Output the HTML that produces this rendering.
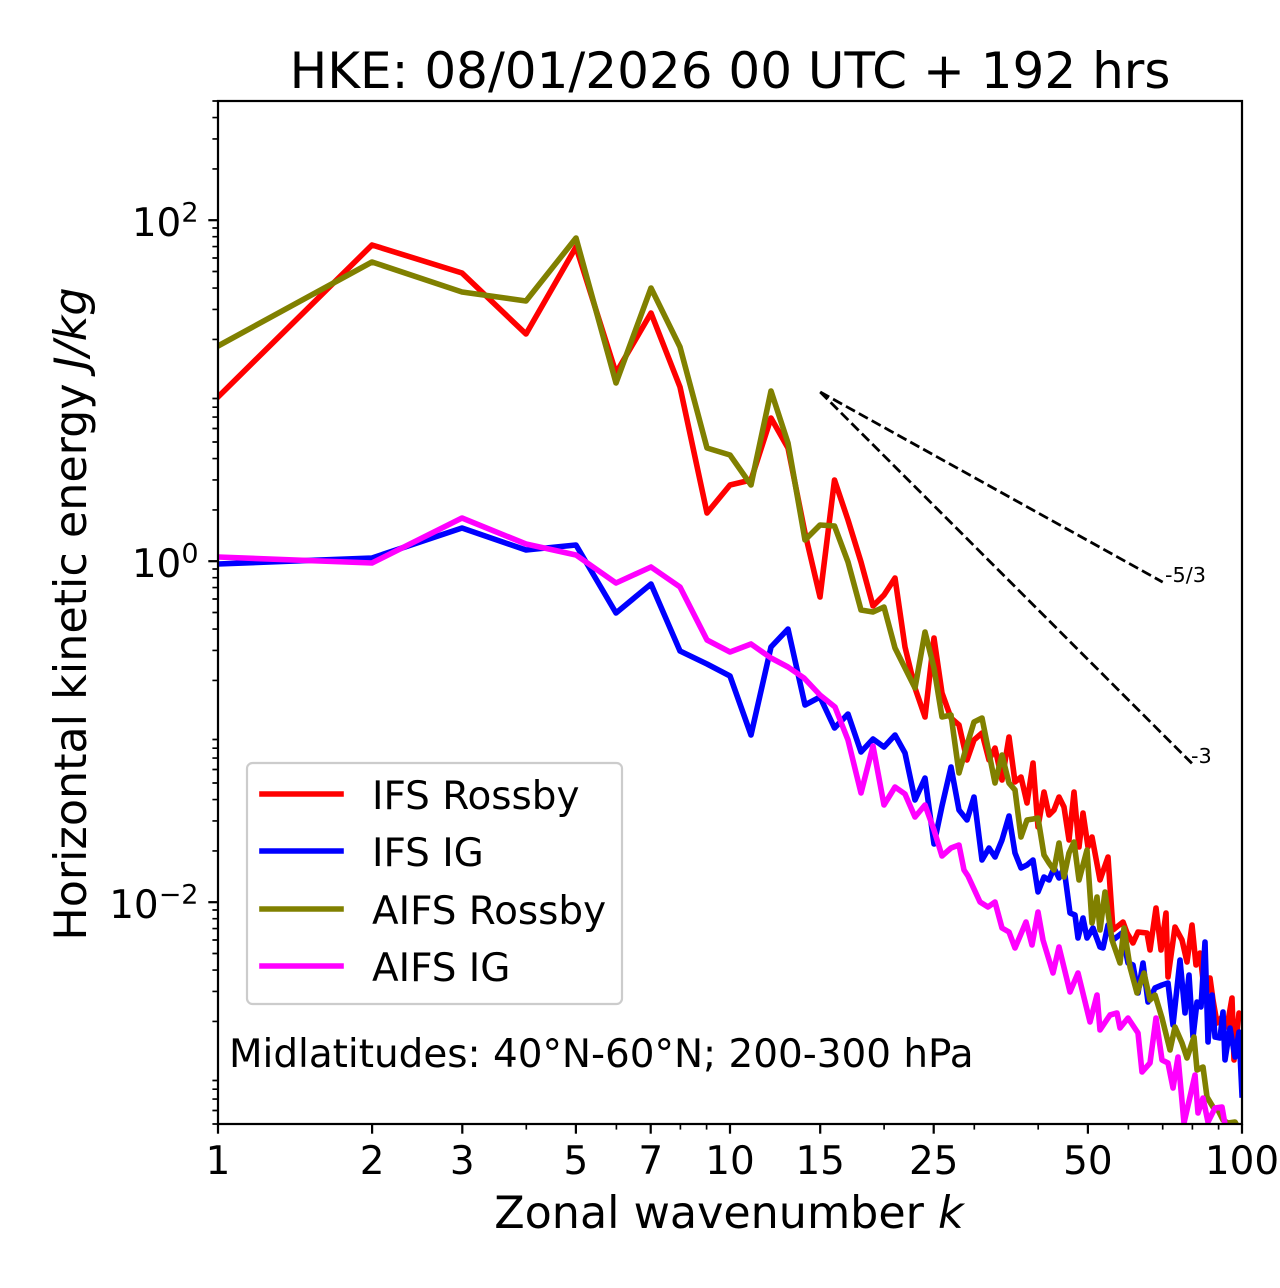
<!DOCTYPE html>
<html><head><meta charset="utf-8"><style>
html,body{margin:0;padding:0;background:#fff;}
svg{display:block;}
text{font-family:"DejaVu Sans","Liberation Sans",sans-serif;fill:#000;}
</style></head><body>
<svg width="1280" height="1288" viewBox="0 0 1280 1288" xmlns="http://www.w3.org/2000/svg">
<rect width="1280" height="1288" fill="#fff"/>
<defs><clipPath id="c"><rect x="218" y="101" width="1024" height="1023"/></clipPath></defs>

<g clip-path="url(#c)" fill="none" stroke-width="5.6" stroke-linejoin="round" stroke-linecap="square">
<polyline stroke="#ff0000" points="218,397 372,245 462,273 526,334 576,247 616,373 651,313 680,387 707,513 730,485 751,480 771,418 788,448 805,533 820,597 834.5,480 848,520 861,562 873,606 884,595 895,578 905,647 915,688 925,717 934,638 942,693 951,718 959,725 967,760 974,740 982,733 989,760 995,748 1002,780 1009,737 1015,782 1021,777 1027,803 1033,763 1038,827 1044,792 1049,815 1054,810 1059,797 1064,807 1069,840 1074,792 1079,847 1083,813 1088,847 1092,837 1100,880 1108,857 1113,930 1123,922 1127,933 1133,943 1138,932 1147,933 1150,950 1156,908 1161,950 1166,913 1168,977 1175,927 1182,940 1187,962 1192,925 1196,965 1200,953 1203,980 1210,978 1213,1000 1217,1023 1222,1017 1227,1027 1232,998 1234,1060 1239,1013 1242,1017"/>
<polyline stroke="#0000ff" points="218,564 372,558 462,528 526,550 576,545 616,613 651,584 680,651 707,664 730,676 751,735 771,647 788,629 805,705 820,697 834.5,728 848,714 861,752 873,739 884,747 895,735 905,753 915,800 925,778 934,844 942,806 951,767 959,810 967,820 974,797 982,860 989,848 995,857 1002,840 1009,816 1015,853 1021,868 1027,865 1033,860 1038,892 1044,877 1049,880 1054,868 1059,878 1064,868 1070,913 1075,915 1078,938 1083,918 1087,938 1093,928 1100,947 1103,948 1108,925 1113,940 1122,933 1128,963 1133,965 1138,993 1143,963 1148,1002 1155,988 1162,985 1168,983 1173,1025 1180,960 1185,1013 1189,975 1193,1037 1197,1002 1201,1007 1205,942 1208,1042 1212,995 1215,1037 1220,1038 1223,1012 1225,1060 1230,1028 1235,1057 1239,1032 1242,1095"/>
<polyline stroke="#808000" points="218,346 372,262 462,292 526,301 576,238 616,383 651,288 680,347 707,448 730,455 751,485 771,391 788,443 805,540 820,525 834.5,526 848,562 861,610 873,612 884,607 895,648 905,668 915,688 925,632 934,668 942,717 951,715 959,773 967,745 974,722 982,718 989,753 995,783 1002,755 1009,783 1015,790 1021,837 1027,820 1033,819 1038,818 1044,855 1049,863 1054,870 1059,843 1064,877 1069,853 1074,842 1079,880 1087,850 1092,923 1097,897 1100,930 1105,892 1112,940 1120,963 1124,928 1130,967 1137,993 1144,973 1150,1000 1155,995 1162,1018 1170,1050 1175,1027 1182,1043 1187,1058 1194,1037 1197,1070 1203,1067 1207,1097 1213,1107 1218,1110 1223,1120 1228,1123 1235,1122 1242,1135"/>
<polyline stroke="#ff00ff" points="218,557 372,563 462,518 526,544 576,555 616,583 651,567 680,587 707,640 730,652 751,644 771,658 788,667 804,678 820,695 835,707 848,740 861,793 873,746 884,805 895,787 905,794 915,817 925,805 934,830 942,856 951,848 959,845 964,870 968,876 980,902 988,907 995,902 1002,928 1009,932 1015,948 1026,922 1032,945 1038,912 1043,940 1053,973 1059,947 1070,992 1078,973 1090,1022 1097,995 1100,1030 1110,1015 1117,1013 1120,1028 1128,1018 1138,1033 1142,1072 1150,1063 1156,1018 1162,1060 1168,1063 1173,1088 1178,1057 1184,1123 1195,1075 1198,1113 1203,1098 1208,1122 1215,1108 1222,1107 1226,1130"/>
<g stroke="#000" stroke-width="2.78" stroke-dasharray="10.28 4.44" stroke-linecap="butt">
<line x1="820.2" y1="392" x2="1162.7" y2="582.1"/>
<line x1="820.2" y1="392" x2="1192.4" y2="763.9"/>
</g>
</g>

<text x="1165" y="582" font-size="20.8">-5/3</text>
<text x="1191" y="763" font-size="20.8">-3</text>

<!-- spines -->
<rect x="218" y="101" width="1024" height="1023" fill="none" stroke="#000" stroke-width="2.22"/>

<!-- x ticks major -->
<g stroke="#000" stroke-width="2.22">
<line x1="218" y1="1124" x2="218" y2="1133.7"/>
<line x1="372.1" y1="1124" x2="372.1" y2="1133.7"/>
<line x1="462.3" y1="1124" x2="462.3" y2="1133.7"/>
<line x1="575.9" y1="1124" x2="575.9" y2="1133.7"/>
<line x1="650.7" y1="1124" x2="650.7" y2="1133.7"/>
<line x1="730" y1="1124" x2="730" y2="1133.7"/>
<line x1="820.2" y1="1124" x2="820.2" y2="1133.7"/>
<line x1="933.7" y1="1124" x2="933.7" y2="1133.7"/>
<line x1="1087.9" y1="1124" x2="1087.9" y2="1133.7"/>
<line x1="1242" y1="1124" x2="1242" y2="1133.7"/>
<line x1="208.3" y1="220.2" x2="218" y2="220.2"/>
<line x1="208.3" y1="561.2" x2="218" y2="561.2"/>
<line x1="208.3" y1="902.2" x2="218" y2="902.2"/>
</g>
<g stroke="#000" stroke-width="1.67">
<line x1="526.3" y1="1124" x2="526.3" y2="1129.6"/>
<line x1="616.4" y1="1124" x2="616.4" y2="1129.6"/>
<line x1="680.4" y1="1124" x2="680.4" y2="1129.6"/>
<line x1="706.6" y1="1124" x2="706.6" y2="1129.6"/>
<line x1="884.1" y1="1124" x2="884.1" y2="1129.6"/>
<line x1="974.3" y1="1124" x2="974.3" y2="1129.6"/>
<line x1="1038.2" y1="1124" x2="1038.2" y2="1129.6"/>
<line x1="1128.4" y1="1124" x2="1128.4" y2="1129.6"/>
<line x1="1162.7" y1="1124" x2="1162.7" y2="1129.6"/>
<line x1="1192.4" y1="1124" x2="1192.4" y2="1129.6"/>
<line x1="1218.6" y1="1124" x2="1218.6" y2="1129.6"/>
</g>
<!-- y minor ticks -->
<path stroke="#000" stroke-width="1.67" fill="none" d="
M212.4 168.9H218M212.4 138.9H218M212.4 117.6H218M212.4 101H218
M212.4 339.4H218M212.4 309.4H218M212.4 288.1H218M212.4 271.5H218M212.4 258H218M212.4 246.6H218M212.4 236.7H218M212.4 228H218
M212.4 509.9H218M212.4 479.9H218M212.4 458.6H218M212.4 442H218M212.4 428.5H218M212.4 417.1H218M212.4 407.2H218M212.4 398.5H218
M212.4 680.4H218M212.4 650.4H218M212.4 629.1H218M212.4 612.5H218M212.4 599H218M212.4 587.6H218M212.4 577.7H218M212.4 569H218
M212.4 850.9H218M212.4 820.9H218M212.4 799.6H218M212.4 783H218M212.4 769.5H218M212.4 758.1H218M212.4 748.2H218M212.4 739.5H218
M212.4 1021.4H218M212.4 991.4H218M212.4 970.1H218M212.4 953.5H218M212.4 940H218M212.4 928.6H218M212.4 918.7H218M212.4 910H218
M212.4 1124H218M212.4 1110.5H218M212.4 1099.1H218M212.4 1089.2H218M212.4 1080.5H218"/>

<!-- x tick labels -->
<g font-size="38.9" text-anchor="middle">
<text x="218" y="1174">1</text>
<text x="372.1" y="1174">2</text>
<text x="462.3" y="1174">3</text>
<text x="575.9" y="1174">5</text>
<text x="650.7" y="1174">7</text>
<text x="730" y="1174">10</text>
<text x="820.2" y="1174">15</text>
<text x="933.7" y="1174">25</text>
<text x="1087.9" y="1174">50</text>
<text x="1242" y="1174">100</text>
</g>
<!-- y tick labels -->
<g font-size="38.9" text-anchor="end">
<text x="198.5" y="236">10<tspan dy="-14.5" font-size="27">2</tspan></text>
<text x="198.5" y="577">10<tspan dy="-14.5" font-size="27">0</tspan></text>
<text x="198.5" y="918">10<tspan dy="-14.5" font-size="27">−2</tspan></text>
</g>

<!-- axis labels -->
<text x="729" y="1228" font-size="44.4" text-anchor="middle">Zonal wavenumber <tspan font-style="italic">k</tspan></text>
<text transform="translate(86,614) rotate(-90)" font-size="44.4" text-anchor="middle">Horizontal kinetic energy <tspan font-style="italic">J/kg</tspan></text>

<!-- title -->
<text x="730" y="88" font-size="50" text-anchor="middle">HKE: 08/01/2026 00 UTC + 192 hrs</text>

<!-- legend -->
<rect x="247" y="763" width="375" height="241" rx="5.5" fill="#fff" fill-opacity="0.8" stroke="#cccccc" stroke-width="2.2"/>
<g stroke-width="5.6" stroke-linecap="square">
<line x1="262" y1="794" x2="341" y2="794" stroke="#ff0000"/>
<line x1="262" y1="851" x2="341" y2="851" stroke="#0000ff"/>
<line x1="262" y1="909" x2="341" y2="909" stroke="#808000"/>
<line x1="262" y1="966" x2="341" y2="966" stroke="#ff00ff"/>
</g>
<g font-size="38.9">
<text x="372" y="809">IFS Rossby</text>
<text x="372" y="866">IFS IG</text>
<text x="372" y="924">AIFS Rossby</text>
<text x="372" y="981">AIFS IG</text>
</g>

<text x="229" y="1067" font-size="38.9">Midlatitudes: 40°N-60°N; 200-300 hPa</text>
</svg>
</body></html>
